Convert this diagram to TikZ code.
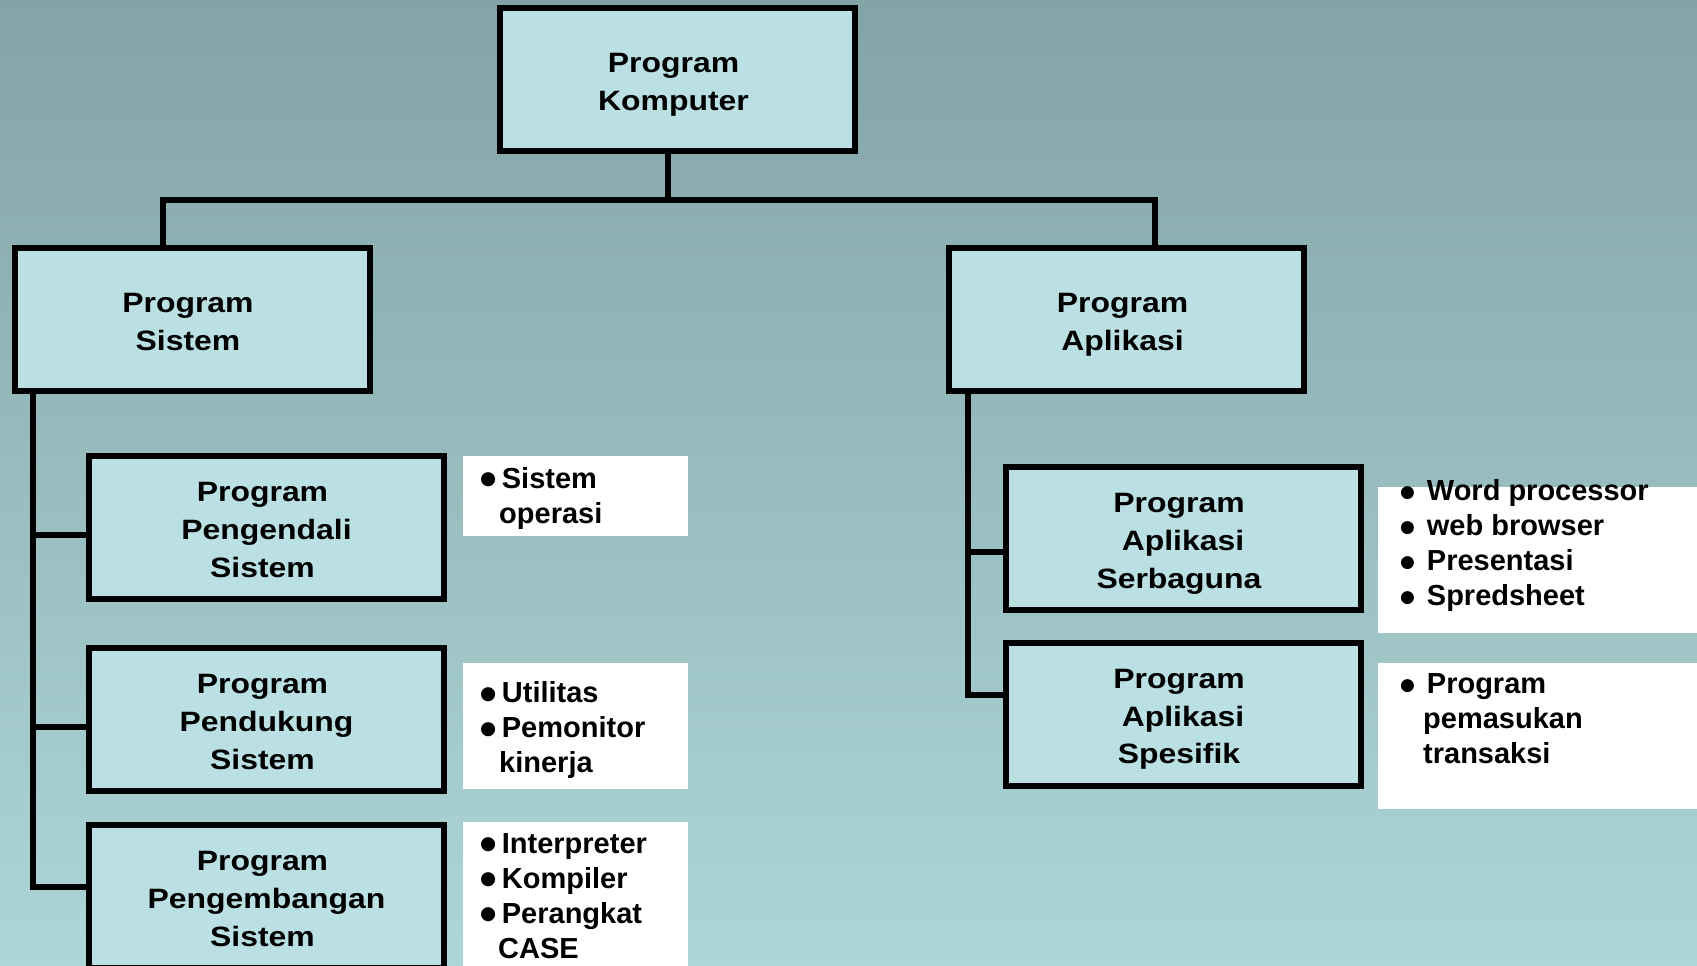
\documentclass[tikz,border=0pt]{standalone}
\usepackage{fontspec}
\setmainfont{Liberation Sans}
\newfontfamily\boxfont[FakeStretch=1.14]{Liberation Sans}
\newfontfamily\symfont{DejaVu Sans}
\definecolor{bgtop}{RGB}{131,163,166}
\definecolor{bgmid}{RGB}{156,193,196}
\definecolor{bgbot}{RGB}{173,214,216}
\definecolor{boxfill}{RGB}{186,224,227}
% bullet: box width, glyph size, raise
\newcommand\blt[3]{\makebox[#1][l]{\raisebox{#3}{\symfont\fontsize{#2}{#2}\selectfont ●}}}
\newcommand\lb{\blt{21.7pt}{18.5pt}{3.5pt}}
\newcommand\rb{\blt{26.7pt}{17pt}{3pt}}
% labels sit slightly left of the box centre
\newcommand\sh{\hspace*{8pt}}
\tikzset{
  prog/.style={draw=black, line width=6pt, fill=boxfill, minimum width=355pt,
    minimum height=143pt, inner sep=0pt, align=center,
    font=\boxfont\bfseries\fontsize{28}{37.7}\selectfont},
  link/.style={draw=black, line width=6pt},
  notebg/.style={fill=white},
  note/.style={anchor=base west, inner sep=0pt,
    font=\bfseries\fontsize{29}{35}\selectfont}
}
\newcommand\tst{\rule{0pt}{31pt}}
\newcommand\bst{\rule[-7pt]{0pt}{7pt}\sh}
\begin{document}
\begin{tikzpicture}[x=1pt,y=-1pt]
  \useasboundingbox (0,0) rectangle (1697,966);
  \clip (0,0) rectangle (1697,966);
  \shade[top color=bgtop, middle color=bgmid, bottom color=bgbot] (0,0) rectangle (1697,966);

  % program boxes
  \node[prog] (top) at (677.5,79.5) {\tst Program\sh\\Komputer\bst};
  \node[prog] (sys) at (192,319.5) {\tst Program\sh\\Sistem\bst};
  \node[prog] (app) at (1126.5,319.5) {\tst Program\sh\\Aplikasi\bst};
  \node[prog] (ctl) at (266.5,527.5) {\tst Program\sh\\Pengendali\sh\\Sistem\bst};
  \node[prog] (sup) at (266.5,719.5) {\tst Program\sh\\Pendukung\sh\\Sistem\bst};
  \node[prog] (dev) at (266.5,896.5) {\tst Program\sh\\Pengembangan\sh\\Sistem\bst};
  \node[prog] (gen) at (1183,538.5) {\tst Program\sh\\Aplikasi\sh\\Serbaguna\bst};
  \node[prog] (spc) at (1183,714) {\tst Program\sh\\Aplikasi\sh\\Spesifik\bst};

  % bus and branch points
  \coordinate (hub) at (668,200);
  \coordinate (busL) at (163,200);
  \coordinate (busR) at (1155,200);
  \coordinate (b1) at (33,535);
  \coordinate (b2) at (33,727);
  \coordinate (b3) at (33,887);
  \coordinate (r1) at (968,552);
  \coordinate (r2) at (968,695);

  % connectors
  \draw[link] (top.south -| hub) -- (hub);
  \draw[link] (sys.north -| busL) -- (busL) -- (busR) -- (app.north -| busR);
  \draw[link] (sys.south -| b1) -- (b3) -- (dev.west |- b3);
  \draw[link] (b1) -- (ctl.west |- b1);
  \draw[link] (b2) -- (sup.west |- b2);
  \draw[link] (app.south -| r1) -- (r2) -- (spc.west |- r2);
  \draw[link] (r1) -- (gen.west |- r1);

  % note panels
  \fill[notebg] (463,456) rectangle (688,536);
  \fill[notebg] (463,663) rectangle (688,789);
  \fill[notebg] (463,822) rectangle (688,970);
  \fill[notebg] (1378,487) rectangle (1697,633);
  \fill[notebg] (1378,663) rectangle (1697,809);

  \node[note] (n1) at (480,488.3) {\begin{tabular}[t]{@{}l@{}}\lb Sistem\\\hspace*{19pt}operasi\end{tabular}};
  \node[note] (n2) at (480,702.5) {\begin{tabular}[t]{@{}l@{}}\lb Utilitas\\\lb Pemonitor\\\hspace*{19pt}kinerja\end{tabular}};
  \node[note] (n3) at (480,853.3) {\begin{tabular}[t]{@{}l@{}}\lb Interpreter\\\lb Kompiler\\\lb Perangkat\\\hspace*{18pt}CASE\end{tabular}};
  \node[note] (n4) at (1400,500) {\begin{tabular}[t]{@{}l@{}}\rb Word processor\\\rb web browser\\\rb Presentasi\\\rb Spredsheet\end{tabular}};
  \node[note] (n5) at (1400,693) {\begin{tabular}[t]{@{}l@{}}\rb Program\\\hspace*{23pt}pemasukan\\\hspace*{23pt}transaksi\end{tabular}};
\end{tikzpicture}
\end{document}
